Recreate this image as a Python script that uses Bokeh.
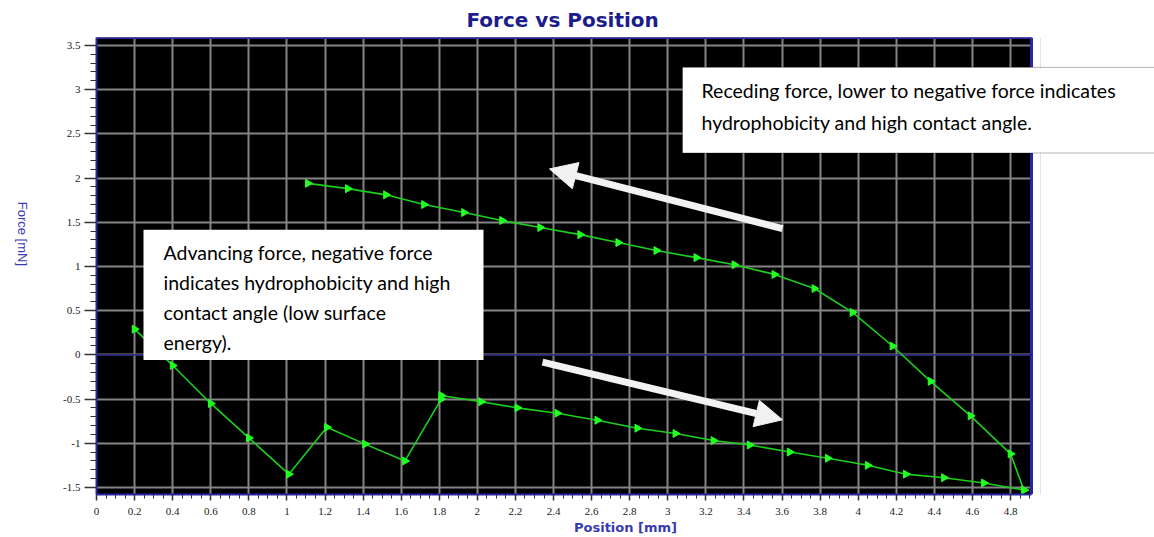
import math
from bokeh.plotting import figure
from bokeh.models import (Range1d, SingleIntervalTicker, CustomJSTickFormatter,
                          BoxAnnotation, Label, Arrow, NormalHead, Title)
from bokeh.embed import file_html
from bokeh.resources import INLINE

# ---- data ----
adv_x = [0.20, 0.40, 0.60, 0.80, 1.01, 1.21, 1.41, 1.62, 1.81, 1.81, 2.02, 2.21, 2.42,
         2.63, 2.84, 3.04, 3.24, 3.43, 3.64, 3.84, 4.05, 4.25, 4.45, 4.66, 4.87]
adv_y = [0.29, -0.12, -0.55, -0.94, -1.35, -0.82, -1.01, -1.20, -0.50, -0.46, -0.53, -0.60, -0.66,
         -0.74, -0.83, -0.89, -0.97, -1.02, -1.10, -1.17, -1.25, -1.35, -1.39, -1.45, -1.53]
rec_x = [4.87, 4.80, 4.59, 4.38, 4.18, 3.97, 3.77, 3.56, 3.35, 3.15, 2.94, 2.74, 2.54, 2.33,
         2.13, 1.93, 1.72, 1.52, 1.32, 1.11]
rec_y = [-1.53, -1.12, -0.69, -0.30, 0.10, 0.48, 0.75, 0.91, 1.02, 1.10, 1.18, 1.27, 1.36, 1.44,
         1.52, 1.61, 1.70, 1.81, 1.88, 1.94]

title_text = "Force vs Position"
x_label = "Position [mm]"
y_label = "Force [mN]"
note_receding = ["Receding force, lower to negative force indicates",
                 "hydrophobicity and high contact angle."]
note_advancing = ["Advancing force, negative force",
                  "indicates hydrophobicity and high",
                  "contact angle (low surface",
                  "energy)."]

# ---- layout ----
W, H = 1154, 537
FL, FT, FB = 96, 35, 494          # frame edges (px)
FR_AX = 1031                      # right edge of the black plot area (px)
X0, XA = 0.0, 4.91                # black plot area x extent
Y0, Y1 = -1.58, 3.59
X1 = X0 + (XA - X0) * (W - FL) / (FR_AX - FL)   # frame extends to canvas edge


def X(px):
    return X0 + (px - FL) / (FR_AX - FL) * (XA - X0)


def Y(py):
    return Y1 - (py - FT) / (FB - FT) * (Y1 - Y0)


BLUE = "#2626a6"
p = figure(width=W, height=H, output_backend="svg", toolbar_location=None,
           x_range=Range1d(X0, X1), y_range=Range1d(Y0, Y1),
           min_border_left=FL, min_border_right=0, min_border_top=FT,
           min_border_bottom=H - FB)
p.background_fill_color = "white"
p.border_fill_color = "white"
p.outline_line_color = None

p.title = Title(text=title_text, align="left", offset=370,
                text_font="DejaVu Sans", text_font_size="20px", text_font_style="bold",
                text_color="#1c1c8e", standoff=11)

fmt = CustomJSTickFormatter(code="return String(Math.round(tick*10)/10);")
xa = p.xaxis[0]
xa.ticker = SingleIntervalTicker(interval=0.2, num_minor_ticks=4)
xa.formatter = fmt
xa.bounds = (X0, XA)
ya = p.yaxis[0]
ya.ticker = SingleIntervalTicker(interval=0.5, num_minor_ticks=5)
ya.formatter = fmt
for ax in (xa, ya):
    ax.axis_line_color = BLUE
    ax.axis_line_width = 2
    ax.major_tick_line_color = "#333333"
    ax.minor_tick_line_color = "#333333"
    ax.major_tick_line_width = 1.5
    ax.major_tick_in = 0
    ax.minor_tick_in = 0
    ax.major_label_text_font = "Liberation Sans Narrow"
    ax.major_label_text_font_size = "11px"
    ax.major_label_text_color = "#1a1a1a"
xa.major_tick_out = 6
xa.minor_tick_out = 4
xa.major_label_standoff = 7
xa.axis_label = x_label
xa.axis_label_text_font = "DejaVu Sans"
xa.axis_label_text_font_style = "bold"
xa.axis_label_text_font_size = "13px"
xa.axis_label_text_color = "#3a3ab0"
xa.axis_label_standoff = 2
ya.major_tick_out = 12
ya.minor_tick_out = 6
ya.major_label_standoff = 4
ya.axis_label = y_label
ya.axis_label_text_font = "Liberation Sans"
ya.axis_label_text_font_style = "normal"
ya.axis_label_text_font_size = "13px"
ya.axis_label_text_color = "#3a3ab8"
ya.axis_label_standoff = 38
try:
    ya.axis_label_orientation = -math.pi / 2
except Exception:
    pass

p.grid.grid_line_color = "#848484"
p.grid.grid_line_width = 2

# black plot area (lowest level, under the grid), white area right of it
p.quad(left=X0 - 1, right=XA, bottom=Y0 - 1, top=Y1 + 1, fill_color="black",
       line_color=None, level="image")
p.quad(left=XA, right=X1 + 1, bottom=Y0 - 1, top=Y1 + 1, fill_color="white", line_color=None)
p.segment(x0=[X0, XA], y0=[Y1, Y0], x1=[XA, XA], y1=[Y1, Y1], line_color=BLUE, line_width=3)
p.segment(x0=[X0], y0=[0], x1=[XA], y1=[0], line_color="#10108a", line_width=1.2)
p.segment(x0=[X(1040)], y0=[Y0 - 1], x1=[X(1040)], y1=[Y1 + 1], line_color="#e4e4e4", line_width=1)

GREEN_L = "#1ccf1c"
GREEN_M = "#22ff22"
p.line(adv_x, adv_y, line_color=GREEN_L, line_width=1.6)
p.line(rec_x, rec_y, line_color=GREEN_L, line_width=1.6)
p.scatter(adv_x, adv_y, marker="triangle", angle=-math.pi / 2, size=8,
          fill_color=GREEN_M, line_color=GREEN_M)
p.scatter(rec_x, rec_y, marker="triangle", angle=-math.pi / 2, size=8,
          fill_color=GREEN_M, line_color=GREEN_M)

# arrows
ARW = "#f2f2f2"
p.add_layout(Arrow(end=NormalHead(size=27, fill_color=ARW, line_color=ARW),
                   x_start=X(782), y_start=Y(227), x_end=X(549), y_end=Y(167),
                   line_color=ARW, line_width=7))
p.add_layout(Arrow(end=NormalHead(size=27, fill_color=ARW, line_color=ARW),
                   x_start=X(542), y_start=Y(361), x_end=X(782), y_end=Y(419),
                   line_color=ARW, line_width=7))

# text boxes
p.add_layout(BoxAnnotation(left=X(682), right=X(1170), top=Y(65), bottom=Y(151),
                           fill_color="white", fill_alpha=1, line_color="black",
                           line_width=1, level="annotation"))
p.add_layout(BoxAnnotation(left=X(143), right=X(483), top=Y(228), bottom=Y(359),
                           fill_color="white", fill_alpha=1, line_color=None,
                           level="annotation"))
for i, t in enumerate(note_receding):
    p.add_layout(Label(x=X(701), y=Y(88 + 32 * i), text=t, text_font="Lato",
                       text_font_size="19.5px", text_baseline="middle", text_color="black"))
for i, t in enumerate(note_advancing):
    p.add_layout(Label(x=X(163), y=Y(251 + 30 * i), text=t, text_font="Lato",
                       text_font_size="19.5px", text_baseline="middle", text_color="black"))

open("out.html", "w").write(file_html(p, INLINE))
